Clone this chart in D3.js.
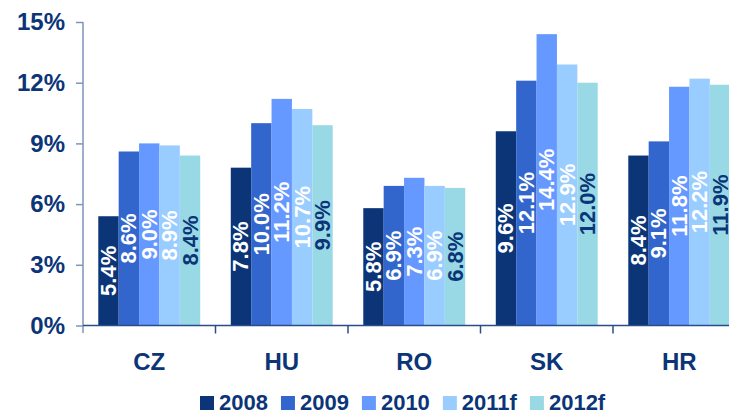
<!DOCTYPE html>
<html><head><meta charset="utf-8">
<script src="https://cdn.jsdelivr.net/npm/d3@7"></script>
<style>
html,body{margin:0;padding:0;background:#fff;}
svg{display:block;font-family:"Liberation Sans",Arial,sans-serif;font-weight:bold;}
</style></head>
<body>
<svg id="chart" width="729" height="410"></svg>
<script>
const categories = ["CZ", "HU", "RO", "SK", "HR"];
const seriesNames = ["2008", "2009", "2010", "2011f", "2012f"];
const s2008  = [5.4, 7.8, 5.8, 9.6, 8.4];
const s2009  = [8.6, 10.0, 6.9, 12.1, 9.1];
const s2010  = [9.0, 11.2, 7.3, 14.4, 11.8];
const s2011f = [8.9, 10.7, 6.9, 12.9, 12.2];
const s2012f = [8.4, 9.9, 6.8, 12.0, 11.9];
const yTicks = [0, 3, 6, 9, 12, 15];
const colors = ["#0b3577", "#3366cc", "#6699ff", "#99ccff", "#99d9e6"];
const labelColors = ["#ffffff", "#ffffff", "#ffffff", "#ffffff", "#0b3577"];

const seriesValues = [s2008, s2009, s2010, s2011f, s2012f];
const navy = "#0b3577";
const svg = d3.select("#chart");

const x0 = d3.scaleBand().domain(categories).range([83, 745.5]).padding(0);
const x1 = d3.scaleBand().domain(seriesNames).range([0, x0.bandwidth()]).paddingInner(0).paddingOuter(0.75);
const y = d3.scaleLinear().domain([0, 15]).range([325.5, 22]);

// bars
const groups = svg.append("g").selectAll("g").data(categories).join("g")
  .attr("transform", d => `translate(${x0(d)},0)`);
groups.each(function(cat, ci) {
  const g = d3.select(this);
  seriesNames.forEach((s, si) => {
    const v = seriesValues[si][ci];
    g.append("rect")
      .attr("x", x1(s)).attr("width", x1.bandwidth())
      .attr("y", y(v)).attr("height", y(0) - y(v))
      .attr("fill", colors[si]);
  });
  seriesNames.forEach((s, si) => {
    const v = seriesValues[si][ci];
    const cx = x1(s) + x1.bandwidth() / 2;
    const cy = (y(v) + y(0)) / 2;
    g.append("text")
      .attr("transform", `translate(${cx},${cy}) rotate(-90)`)
      .attr("text-anchor", "middle").attr("dominant-baseline", "central")
      .attr("font-size", 22).attr("fill", labelColors[si])
      .text(v.toFixed(1) + "%");
  });
});

// y axis
const yAxis = d3.axisLeft(y).tickValues(yTicks).tickSize(7).tickPadding(11).tickFormat(d => d + "%");
const ya = svg.append("g").attr("transform", "translate(83,0)").call(yAxis);
ya.select(".domain").attr("stroke", "#7d95bb").attr("stroke-width", 1.5).attr("d", "M0,22V333");
ya.selectAll(".tick line").attr("stroke", "#7d95bb").attr("stroke-width", 1.5);
ya.selectAll(".tick text").attr("font-size", 24).attr("fill", navy)
  .attr("font-family", "Liberation Sans, Arial, sans-serif").attr("font-weight", "bold");

// x axis
const xa = svg.append("g").attr("transform", `translate(0,${y(0)})`);
xa.append("line").attr("x1", 83).attr("x2", 745.5).attr("y1", 0).attr("y2", 0)
  .attr("stroke", "#2b4c88").attr("stroke-width", 1.5);
const tickXs = categories.map(c => x0(c)).concat([x0(categories[categories.length - 1]) + x0.bandwidth()]);
xa.selectAll("line.t").data(tickXs.slice(1)).join("line").attr("class", "t")
  .attr("x1", d => d).attr("x2", d => d).attr("y1", 0).attr("y2", 8)
  .attr("stroke", "#2b4c88").attr("stroke-width", 1.5);
xa.selectAll("text").data(categories).join("text")
  .attr("x", d => x0(d) + x0.bandwidth() / 2).attr("y", 44.5)
  .attr("text-anchor", "middle").attr("font-size", 24).attr("fill", navy)
  .text(d => d);

// legend
const leg = svg.append("g");
let lx = 200;
seriesNames.forEach((s, i) => {
  leg.append("rect").attr("x", lx).attr("y", 396).attr("width", 14).attr("height", 14).attr("fill", colors[i]);
  const t = leg.append("text").attr("x", lx + 19).attr("y", 409.5)
    .attr("font-size", 22).attr("fill", navy).text(s);
  lx += 19 + t.node().getComputedTextLength() + 13;
});
</script>
</body></html>
